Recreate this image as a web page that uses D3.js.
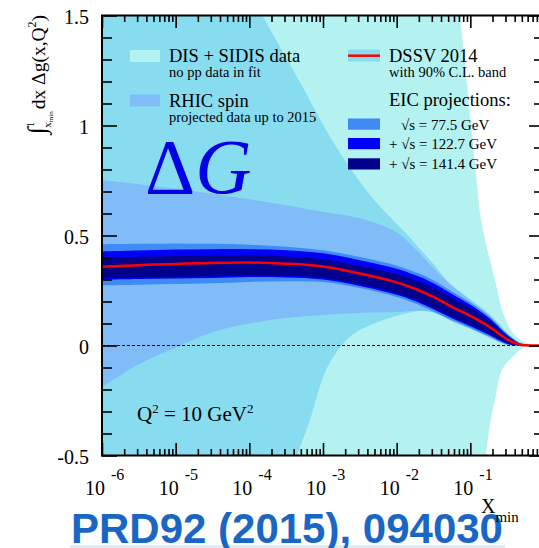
<!DOCTYPE html>
<html>
<head>
<meta charset="utf-8">
<script src="https://cdn.jsdelivr.net/npm/d3@7/dist/d3.min.js"></script>
<style>
html, body { margin: 0; padding: 0; background: #fff; }
svg { display: block; }
text { font-family: "Liberation Serif", "DejaVu Serif", serif; fill: #000; }
</style>
</head>
<body>
<script>
'use strict';

// log10(x_min) grid for the DSSV curve and the band tables
var lx = [-6, -5.5, -5, -4.5, -4, -3.5, -3, -2.5, -2, -1.75, -1.5, -1.25, -1, -0.75, -0.5, -0.35, -0.25, 0];

var dssvCentral = [0.358, 0.365, 0.371, 0.375, 0.377, 0.372, 0.359, 0.327, 0.287, 0.258, 0.221, 0.176, 0.135, 0.087, 0.028, 0.006, 0.001, 0];

var eic141Hi = [0.398, 0.403, 0.407, 0.409, 0.410, 0.405, 0.392, 0.362, 0.325, 0.298, 0.263, 0.216, 0.170, 0.114, 0.040, 0.010, 0.002, 0];
var eic141Lo = [0.307, 0.310, 0.313, 0.315, 0.319, 0.317, 0.308, 0.279, 0.239, 0.210, 0.173, 0.131, 0.095, 0.055, 0.012, 0.001, 0, 0];
var eic122Hi = [0.428, 0.432, 0.436, 0.438, 0.438, 0.433, 0.419, 0.388, 0.349, 0.320, 0.283, 0.234, 0.185, 0.126, 0.048, 0.013, 0.003, 0];
var eic122Lo = [0.299, 0.302, 0.305, 0.307, 0.311, 0.309, 0.300, 0.271, 0.231, 0.202, 0.165, 0.124, 0.088, 0.049, 0.008, 0, 0, 0];
var eic77Hi = [0.460, 0.462, 0.464, 0.462, 0.458, 0.449, 0.433, 0.402, 0.363, 0.334, 0.297, 0.246, 0.195, 0.134, 0.052, 0.015, 0.003, 0];
var eic77Lo = [0.273, 0.276, 0.279, 0.283, 0.289, 0.292, 0.289, 0.261, 0.221, 0.192, 0.155, 0.115, 0.080, 0.042, 0.004, 0, 0, 0];
var rhicHi = [0.752, 0.733, 0.713, 0.690, 0.665, 0.638, 0.608, 0.578, 0.515, 0.440, 0.352, 0.270, 0.205, 0.140, 0.055, 0.016, 0.003, 0];
var rhicLo = [-0.19, -0.085, -0.01, 0.06, 0.10, 0.125, 0.139, 0.148, 0.152, 0.158, 0.150, 0.110, 0.076, 0.038, 0.003, 0, 0, 0];

// DSSV 2014 90% C.L. band, boundaries as [log10 x, value]
var dssvBandHi = [[-6, 2.5], [-4.2, 1.75], [-3.815, 1.495], [-3.312, 1.197], [-2.837, 0.911], [-2.362, 0.684],
	[-1.819, 0.49], [-1.5, 0.37], [-1.3, 0.29], [-1, 0.21], [-0.75, 0.145], [-0.5, 0.058], [-0.35, 0.017], [-0.25, 0.003], [0, 0]];
var dssvBandLo = [[-6, -2.5], [-3.6, -0.75], [-3.357, -0.505], [-3.177, -0.339], [-2.996, -0.142], [-2.86, -0.051],
	[-2.634, 0.04], [-2.407, 0.085], [-1.955, 0.139], [-1.507, 0.158], [-1.25, 0.112], [-1, 0.077], [-0.75, 0.04], [-0.5, 0.003], [-0.35, 0], [0, 0]];

// DIS + SIDIS only fit band
var disHi = [[-6, 3], [-1.3, 2.0], [-1.14, 1.495], [-0.914, 0.752], [-0.869, 0.602], [-0.778, 0.449], [-0.665, 0.298],
	[-0.553, 0.146], [-0.417, 0.055], [-0.235, 0.01], [0, 0]];
var disLo = [[-6, -3], [-1.0, -1.0], [-0.792, -0.502], [-0.724, -0.339], [-0.652, -0.225], [-0.598, -0.134], [-0.53, -0.089],
	[-0.44, -0.057], [-0.326, -0.02], [-0.235, -0.005], [0, 0]];

var yMajor = [-0.5, 0, 0.5, 1, 1.5];
var yMinor = [-0.4, -0.3, -0.2, -0.1, 0.1, 0.2, 0.3, 0.4, 0.6, 0.7, 0.8, 0.9, 1.1, 1.2, 1.3, 1.4];
var xDecades = [-6, -5, -4, -3, -2, -1, 0];
var xLabelDecades = [-6, -5, -4, -3, -2, -1];

var col = {
	dis: '#b4f1f1',
	dssv: '#88dcf0',
	rhic: '#80bdf8',
	e77: '#3f8af5',
	e122: '#0000f8',
	e141: '#00008a',
	red: '#ff0000'
};

var W = 539, H = 548;
var x = d3.scaleLog().domain([1e-6, 1]).range([102, 544]);
var y = d3.scaleLinear().domain([-0.5, 1.5]).range([455.5, 15.5]);

var svg = d3.select('body').append('svg').attr('width', W).attr('height', H);

svg.append('defs').append('clipPath').attr('id', 'plot')
	.append('rect').attr('x', 102).attr('y', 15.5).attr('width', 442).attr('height', 440);

var plot = svg.append('g').attr('clip-path', 'url(#plot)');

var line = d3.line()
	.x(d => x(Math.pow(10, d[0])))
	.y(d => y(d[1]))
	.curve(d3.curveCatmullRom.alpha(0.5));

function band(hi, lo, fill) {
	var pts = hi.concat(lo.slice().reverse());
	plot.append('path').attr('d', line(pts) + 'Z').attr('fill', fill).attr('stroke', 'none');
}

function gridBand(hiVals, loVals, fill) {
	band(lx.map((v, i) => [v, hiVals[i]]), lx.map((v, i) => [v, loVals[i]]), fill);
}

band(disHi, disLo, col.dis);
band(dssvBandHi, dssvBandLo, col.dssv);
gridBand(rhicHi, rhicLo, col.rhic);
gridBand(eic77Hi, eic77Lo, col.e77);
gridBand(eic122Hi, eic122Lo, col.e122);
gridBand(eic141Hi, eic141Lo, col.e141);

plot.append('line')
	.attr('x1', x(1e-6)).attr('x2', x(1))
	.attr('y1', y(0)).attr('y2', y(0))
	.attr('stroke', '#000').attr('stroke-width', 1).attr('stroke-dasharray', '3,2');

plot.append('path')
	.attr('d', line(lx.map((v, i) => [v, dssvCentral[i]])))
	.attr('fill', 'none').attr('stroke', col.red).attr('stroke-width', 2.5);

// axes, ROOT style: ticks inside on all four sides
var minorX = [];
xDecades.slice(0, -1).forEach(d => {
	for (var k = 2; k <= 9; k++) minorX.push(k * Math.pow(10, d));
});
var majorX = xDecades.map(d => Math.pow(10, d));

function noDomain(g) {
	g.select('.domain').remove();
	g.selectAll('line').attr('stroke-width', 1.6);
}

svg.append('g').attr('transform', 'translate(102,0)')
	.call(d3.axisLeft(y).tickValues(yMajor).tickSize(-15).tickPadding(13).tickFormat(d => String(d)))
	.call(noDomain)
	.call(g => g.selectAll('text').attr('dy', '0.4em')
		.style('font-family', '"Liberation Serif", serif').style('font-size', '20px').attr('fill', '#000'));
svg.append('g').attr('transform', 'translate(102,0)')
	.call(d3.axisLeft(y).tickValues(yMinor).tickSize(-10).tickFormat(''))
	.call(noDomain);
svg.append('g').attr('transform', 'translate(544,0)')
	.call(d3.axisRight(y).tickValues(yMajor).tickSize(-15).tickFormat(''))
	.call(noDomain);
svg.append('g').attr('transform', 'translate(544,0)')
	.call(d3.axisRight(y).tickValues(yMinor).tickSize(-10).tickFormat(''))
	.call(noDomain);
svg.append('g').attr('transform', 'translate(0,455.5)')
	.call(d3.axisBottom(x).tickValues(majorX).tickSize(-12.5).tickFormat(''))
	.call(noDomain);
svg.append('g').attr('transform', 'translate(0,455.5)')
	.call(d3.axisBottom(x).tickValues(minorX).tickSize(-6.5).tickFormat(''))
	.call(noDomain);
svg.append('g').attr('transform', 'translate(0,15.5)')
	.call(d3.axisTop(x).tickValues(majorX).tickSize(-12.5).tickFormat(''))
	.call(noDomain);
svg.append('g').attr('transform', 'translate(0,15.5)')
	.call(d3.axisTop(x).tickValues(minorX).tickSize(-6.5).tickFormat(''))
	.call(noDomain);

svg.append('rect')
	.attr('x', 102).attr('y', 15.5).attr('width', 442).attr('height', 440)
	.attr('fill', 'none').attr('stroke', '#000').attr('stroke-width', 2);

// x tick labels 10^n
var xl = svg.append('g').selectAll('g').data(xLabelDecades).enter().append('g');
xl.append('text')
	.attr('x', d => x(Math.pow(10, d)) + 3).attr('y', 495)
	.attr('text-anchor', 'end').style('font-size', '20px').text('10');
xl.append('text')
	.attr('x', d => x(Math.pow(10, d)) + 9).attr('y', 480)
	.style('font-size', '16px').text(d => String(d));

// reference text at the bottom
svg.append('line').attr('x1', 70).attr('x2', 505).attr('y1', 546.5).attr('y2', 546.5)
	.attr('stroke', '#d3e3f4').attr('stroke-width', 2);
svg.append('text').attr('x', 71).attr('y', 543)
	.style('font-family', '"Liberation Sans", Arial, sans-serif').style('font-weight', 'bold')
	.style('font-size', '42px').style('fill', '#1a66c4')
	.text('PRD92 (2015), 094030');

var xt = svg.append('text').attr('x', 481).attr('y', 513).style('font-size', '20px');
xt.append('tspan').text('X');
xt.append('tspan').attr('dy', 9).style('font-size', '15px').text('min');

// y axis title
var yt = svg.append('text').attr('transform', 'translate(45,134) rotate(-90)').style('font-size', '19.5px');
yt.append('tspan').style('font-size', '25px').text('\u222B');
yt.append('tspan').attr('dy', -11).style('font-size', '11px').text('1');
yt.append('tspan').attr('dy', 17).attr('dx', -6).style('font-size', '11px').text('x');
yt.append('tspan').attr('dy', 2).style('font-size', '7px').text('min');
yt.append('tspan').attr('dy', -8).attr('dx', 2).text('dx \u0394g(x,Q');
yt.append('tspan').attr('dy', -9).style('font-size', '12px').text('2');
yt.append('tspan').attr('dy', 9).text(')');

// Delta G
var dg = svg.append('text').attr('x', 145).attr('y', 193).style('font-size', '78px').style('fill', '#0000e6');
dg.append('tspan').text('\u0394');
dg.append('tspan').style('font-style', 'italic').text('G');

// Q^2 label
var q = svg.append('text').attr('x', 137).attr('y', 420.5).style('font-size', '21px');
q.append('tspan').text('Q');
q.append('tspan').attr('dy', -8).style('font-size', '13px').text('2');
q.append('tspan').attr('dy', 8).text(' = 10 GeV');
q.append('tspan').attr('dy', -8).style('font-size', '13px').text('2');

// legends
var leftLegend = [
	{ fill: col.dis, title: 'DIS + SIDIS data', sub: 'no pp data in fit', y: 50 },
	{ fill: col.rhic, title: 'RHIC spin', sub: 'projected data up to 2015', y: 94.5 }
];
var ll = svg.append('g').selectAll('g').data(leftLegend).enter().append('g');
ll.append('rect').attr('x', 130).attr('y', d => d.y).attr('width', 30).attr('height', 12).attr('fill', d => d.fill);
ll.append('text').attr('x', 169).attr('y', d => d.y + 12).style('font-size', '18.5px').text(d => d.title);
ll.append('text').attr('x', 169).attr('y', d => d.y + 27).style('font-size', '14.5px').text(d => d.sub);

svg.append('rect').attr('x', 348).attr('y', 49.5).attr('width', 32).attr('height', 12).attr('fill', col.dssv);
svg.append('line').attr('x1', 348).attr('x2', 380).attr('y1', 55.7).attr('y2', 55.7)
	.attr('stroke', col.red).attr('stroke-width', 2.5);
svg.append('text').attr('x', 389).attr('y', 62).style('font-size', '18.5px').text('DSSV 2014');
svg.append('text').attr('x', 389).attr('y', 77).style('font-size', '14.5px').text('with 90% C.L. band');
svg.append('text').attr('x', 389).attr('y', 106).style('font-size', '18.5px').text('EIC projections:');

var eicLegend = [
	{ fill: col.e77, label: '\u221As = 77.5 GeV', tx: 401, y: 118.5 },
	{ fill: col.e122, label: '+ \u221As = 122.7 GeV', tx: 389, y: 138 },
	{ fill: col.e141, label: '+ \u221As = 141.4 GeV', tx: 389, y: 158.3 }
];
var el = svg.append('g').selectAll('g').data(eicLegend).enter().append('g');
el.append('rect').attr('x', 348).attr('y', d => d.y).attr('width', 32).attr('height', 11.2).attr('fill', d => d.fill);
el.append('text').attr('x', d => d.tx).attr('y', d => d.y + 11).style('font-size', '15px').text(d => d.label);
</script>
</body>
</html>
